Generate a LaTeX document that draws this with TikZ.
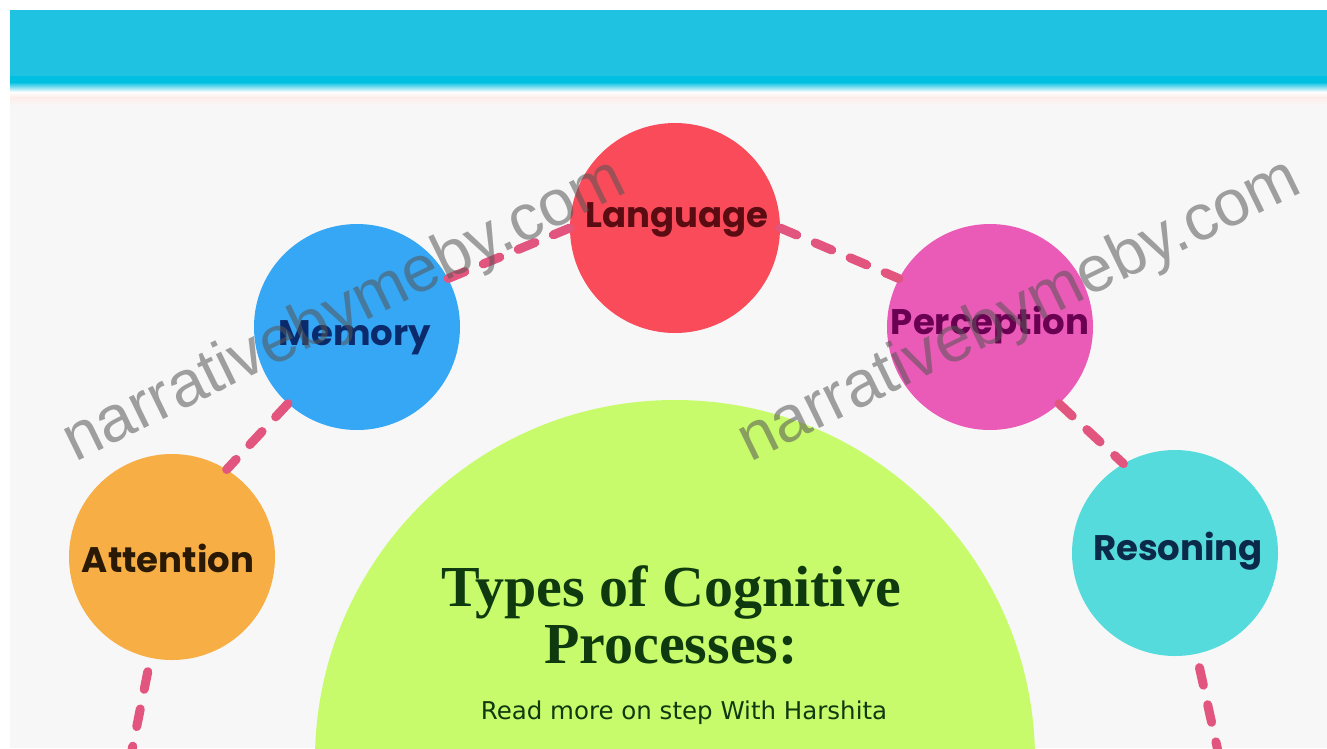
\documentclass[tikz,border=0pt]{standalone}
\usepackage{fontspec}
\setmainfont{Liberation Serif}
\newfontfamily\labelfont{Poppins}
\newfontfamily\wmfont{Liberation Sans}
\newfontfamily\subfont{DejaVu Sans}
\definecolor{band}{HTML}{1FC2E0}
\definecolor{banddark}{HTML}{00C0E2}
\definecolor{bg}{HTML}{F7F7F7}
\definecolor{pinkish}{HTML}{FDEDEA}
\definecolor{langc}{HTML}{F94B5A}
\definecolor{memc}{HTML}{36A7F5}
\definecolor{perc}{HTML}{EA5BB7}
\definecolor{attc}{HTML}{F7AE45}
\definecolor{resc}{HTML}{56DBDC}
\definecolor{greenc}{HTML}{C8FB6C}
\definecolor{dashc}{HTML}{E2557F}
\definecolor{titlec}{HTML}{0F3A10}
\definecolor{langt}{HTML}{5A0C12}
\definecolor{memt}{HTML}{0B2A6B}
\definecolor{pert}{HTML}{6A0052}
\definecolor{attt}{HTML}{2A1A05}
\definecolor{rest}{HTML}{0B2A4A}
\definecolor{wmc}{HTML}{555555}
\tikzset{
  circ/.style={circle, inner sep=0pt, minimum size=#1},
  lbl/.style={font=\labelfont\bfseries\fontsize{35.5}{40}\selectfont, inner sep=0pt},
  conn/.style={draw=dashc, line width=9pt, dash pattern=on 18pt off 20pt, line cap=round},
  wm/.style={font=\wmfont\fontsize{65}{70}\selectfont, text=wmc, opacity=0.55, rotate=26, inner sep=0pt}
}
\begin{document}
\begin{tikzpicture}[x=1pt,y=-1pt]
\useasboundingbox (0,0) rectangle (1327,748);
\fill[white] (0,0) rectangle (1327,748);
\fill[bg] (10,10) rectangle (1327,748);
\fill[band] (10,10) rectangle (1327,76);
\fill[banddark] (10,76) rectangle (1327,82);
\shade[top color=banddark, bottom color=white] (10,82) rectangle (1327,92);
\shade[top color=white, bottom color=pinkish] (10,92) rectangle (1327,97);
\shade[top color=pinkish, bottom color=bg] (10,97) rectangle (1327,106);
% big green circle
\node[circ=720pt, fill=greenc] (core) at (675,760) {};
% circles
\node[circ=210pt, fill=langc] (language) at (675,228) {};
\node[circ=206pt, fill=memc] (memory) at (357,327) {};
\node[circ=206pt, fill=perc] (perception) at (990,327) {};
\node[circ=206pt, fill=attc] (attention) at (172,557) {};
\node[circ=206pt, fill=resc] (resoning) at (1175,553) {};
% connectors
\coordinate (attend) at (129,765);
\coordinate (resend) at (1221,765);
\draw[conn] (memory.28) -- (language.west);
\draw[conn] (language.east) -- (perception.152);
\draw[conn] (memory.228) -- (attention.58);
\draw[conn] (perception.-48) -- (resoning.120);
\draw[conn, shorten <=14pt] (attention.258) -- (attend);
\draw[conn, shorten <=14pt] (resoning.282) -- (resend);
% labels
\node[lbl, text=langt] (languagetxt) at (677,220) {Language};
\node[lbl, text=memt] (memorytxt) at (355,338) {Memory};
\node[lbl, text=pert] (perceptiontxt) at (990,325) {Perception};
\node[lbl, text=attt] (attentiontxt) at (168,558) {Attention};
\node[lbl, text=rest] (resoningtxt) at (1178,551) {Resoning};
% title
\node[font=\bfseries\fontsize{58}{57}\selectfont, text=titlec, align=center, inner sep=0pt] (title) at (671,615) {Types of Cognitive\\Processes:};
\node[font=\subfont\fontsize{24.5}{28}\selectfont, text=titlec, inner sep=0pt] (sub) at (684,713) {Read more on step With Harshita};
% watermarks
\node[wm] (wm1) at (345,312) {narrativebymeby.com};
\node[wm] (wm2) at (1020,312) {narrativebymeby.com};
\end{tikzpicture}
\end{document}
